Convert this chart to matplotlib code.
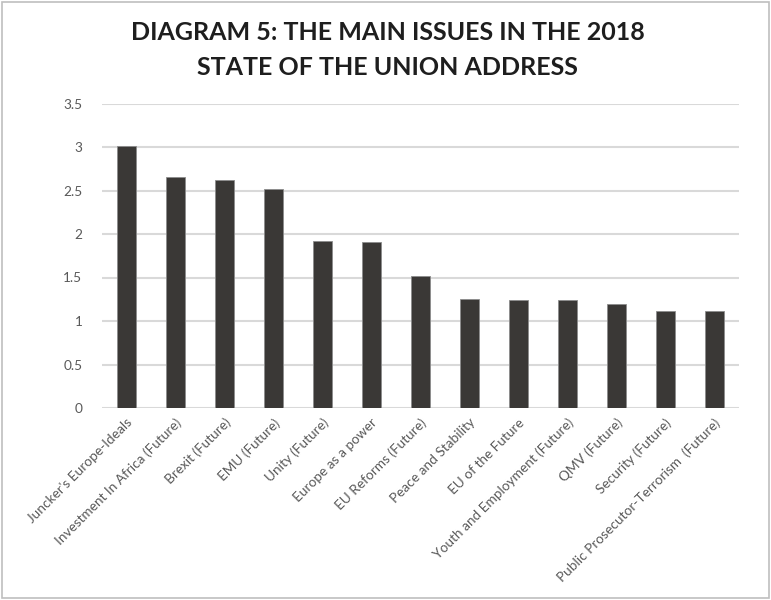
import matplotlib.pyplot as plt
from matplotlib.patches import Rectangle

# Data
issues = [
    "Juncker's Europe-Ideals",
    "Investment In Africa (Future)",
    "Brexit (Future)",
    "EMU (Future)",
    "Unity (Future)",
    "Europe as a power",
    "EU Reforms (Future)",
    "Peace and Stability",
    "EU of the Future",
    "Youth and Employment (Future)",
    "QMV (Future)",
    "Security (Future)",
    "Public Prosecutor-Terrorism  (Future)",
]
scores = [3.01, 2.66, 2.62, 2.52, 1.92, 1.91, 1.52, 1.25, 1.24, 1.24, 1.20, 1.12, 1.12]
y_ticks = [0, 0.5, 1, 1.5, 2, 2.5, 3, 3.5]
y_tick_labels = ["0", "0.5", "1", "1.5", "2", "2.5", "3", "3.5"]

plt.rcParams['font.family'] = ['Lato', 'DejaVu Sans']

fig = plt.figure(figsize=(7.71, 6.0), dpi=100)
ax = fig.add_axes([0.132, 0.32, 0.826, 0.5075])

x = range(len(issues))
ax.bar(x, scores, width=0.39, color="#3a3836", edgecolor="#8c8c8c", linewidth=0.6, zorder=3)

ax.set_ylim(0, 3.5)
ax.set_xlim(-0.5, len(issues) - 0.5)
ax.set_yticks(y_ticks)
ax.set_yticklabels(y_tick_labels)
ax.set_xticks(list(x))
ax.set_xticklabels(issues, rotation=45, ha="right", rotation_mode="anchor")

ax.grid(axis="y", color="#d9d9d9", linewidth=1.5, zorder=0)
for side in ["top", "right", "left", "bottom"]:
    ax.spines[side].set_visible(False)
ax.tick_params(axis="both", length=0, colors="#595959", labelsize=9.8)
ax.tick_params(axis="y", pad=14)
ax.tick_params(axis="x", pad=6)

fig.text(0.503, 0.945, "DIAGRAM 5: THE MAIN ISSUES IN THE 2018", ha="center", va="center",
         fontsize=18, fontweight="bold", color="#1e1e1e")
fig.text(0.503, 0.887, "STATE OF THE UNION ADDRESS", ha="center", va="center",
         fontsize=18, fontweight="bold", color="#1e1e1e")

# light border around the whole chart
fig.patches.append(Rectangle((0.003, 0.003), 0.994, 0.994, transform=fig.transFigure,
                             fill=False, edgecolor="#bfbfbf", linewidth=1.2))

fig.savefig("out.png", dpi=100)
